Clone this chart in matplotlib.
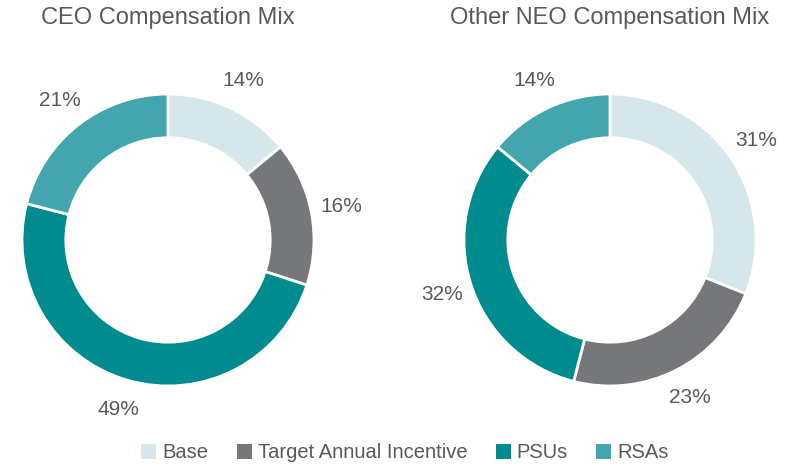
import matplotlib.pyplot as plt
from matplotlib.patches import Patch

plt.rcParams['font.family'] = ['Liberation Sans', 'DejaVu Sans']

categories = ["Base", "Target Annual Incentive", "PSUs", "RSAs"]
ceo_mix = [14, 16, 49, 21]
neo_mix = [31, 23, 32, 14]
colors = ["#d6e7eb", "#76777b", "#008b8f", "#43a5ad"]
text_color = "#595959"

W, H = 797, 466
fig = plt.figure(figsize=(W / 100, H / 100), dpi=100)

R = 146  # outer radius in px
lim = 1.35


def donut(cx, cy, values, title):
    s = 2 * lim * R
    ax = fig.add_axes([(cx - s / 2) / W, (cy - s / 2) / H, s / W, s / H])
    ax.pie(values, colors=colors, startangle=90, counterclock=False,
           autopct=lambda p: f"{p:.0f}%", pctdistance=1.21,
           textprops=dict(color=text_color, fontsize=15),
           wedgeprops=dict(width=0.3, edgecolor="white", linewidth=2))
    ax.set_xlim(-lim, lim)
    ax.set_ylim(-lim, lim)
    ax.set_aspect("equal")
    ax.axis("off")
    fig.text(cx / W, 1 - 18 / H, title, ha="center", va="center",
             fontsize=17, color=text_color)


donut(168, H - 240, ceo_mix, "CEO Compensation Mix")
donut(610, H - 240, neo_mix, "Other NEO Compensation Mix")

handles = [Patch(facecolor=c, label=l) for c, l in zip(colors, categories)]
fig.legend(handles=handles, loc="center", bbox_to_anchor=(405 / W, 1 - 453 / H),
           ncol=4, frameon=False, fontsize=14.5, labelcolor=text_color,
           handlelength=0.75, handleheight=0.75, handletextpad=0.3, columnspacing=1.4)

fig.savefig("out.png", dpi=100)
